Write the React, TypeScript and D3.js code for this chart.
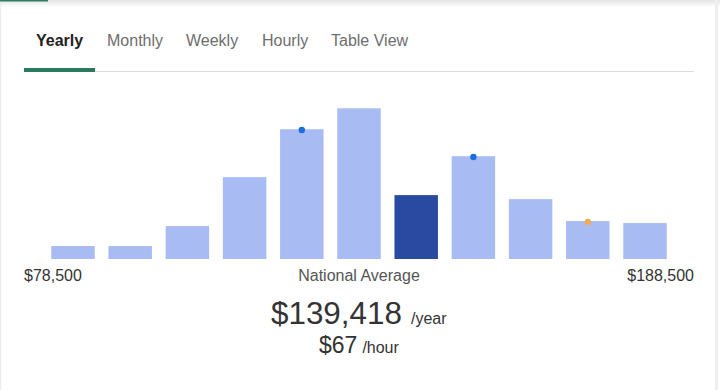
import React from "react";
import * as d3 from "d3";

const tabs = ["Yearly", "Monthly", "Weekly", "Hourly", "Table View"];
const tabX = [36, 107, 186, 262, 331];
const bins = ["b1", "b2", "b3", "b4", "b5", "b6", "b7", "b8", "b9", "b10", "b11"];
const binValues = [13, 13, 33, 82, 130, 151, 64, 103, 60, 38, 36];
const highlightIndex = 6;
const blueMarkers = [4, 7];
const orangeMarkers = [9];
const minLabel = "$78,500";
const maxLabel = "$188,500";
const centerLabel = "National Average";
const yearlyValue = "$139,418";
const hourlyValue = "$67";

const FONT = "'Liberation Sans', Arial, sans-serif";

export default function App() {
  const W = 720, H = 390;
  const x = d3.scaleBand<string>().domain(bins).range([44.4, 673.6]).paddingInner(0.24).paddingOuter(0.12);
  const y = d3.scaleLinear().domain([0, d3.max(binValues) as number]).range([259, 108.3]);
  const markers = [
    ...blueMarkers.map((i) => ({ i, c: "#1a6fe0" })),
    ...orangeMarkers.map((i) => ({ i, c: "#f5ab4f" })),
  ];
  return (
    <svg width={W} height={H} style={{ position: "absolute", left: 0, top: 0, display: "block" }} fontFamily={FONT}>
      <defs>
        <linearGradient id="topShadow" x1="0" y1="0" x2="0" y2="1">
          <stop offset="0" stopColor="#e4e4e4" />
          <stop offset="1" stopColor="#ffffff" />
        </linearGradient>
      </defs>
      <rect x={0} y={0} width={W} height={H} fill="#fff" />
      <rect x={0} y={0} width={W} height={7} fill="url(#topShadow)" />
      <rect x={0} y={0} width={1.2} height={H} fill="#ececec" />
      <rect x={715} y={0} width={3} height={H} fill="#efefef" />
      <rect x={0} y={0} width={48} height={1.5} fill="#2e7d5e" />

      {tabs.map((t, i) => (
        <text key={t} x={tabX[i]} y={46} fontSize={16} fontWeight={i === 0 ? 700 : 400} fill={i === 0 ? "#222" : "#6e6e6e"}>{t}</text>
      ))}
      <rect x={24} y={71} width={670} height={1} fill="#dcdcdc" />
      <rect x={24} y={68} width={71} height={4} fill="#2b7a5f" />

      {binValues.map((v, i) => (
        <rect key={bins[i]} x={x(bins[i])} y={y(v)} width={x.bandwidth()} height={y(0) - y(v)} fill={i === highlightIndex ? "#2a4aa2" : "#a9bbf3"} />
      ))}
      {markers.map((m) => (
        <circle key={m.i} cx={(x(bins[m.i]) as number) + x.bandwidth() / 2} cy={y(binValues[m.i]) + 0.8} r={3.2} fill={m.c} />
      ))}

      <text x={24} y={281} fontSize={16} fill="#333">{minLabel}</text>
      <text x={359} y={281} fontSize={16} fill="#555" textAnchor="middle">{centerLabel}</text>
      <text x={694} y={281} fontSize={16} fill="#333" textAnchor="end">{maxLabel}</text>

      <text x={271} y={324} fill="#333">
        <tspan fontSize={31.4}>{yearlyValue}</tspan>
        <tspan fontSize={16} dx={9}>/year</tspan>
      </text>
      <text x={319} y={352.7} fill="#333">
        <tspan fontSize={23}>{hourlyValue}</tspan>
        <tspan fontSize={16} dx={5}>/hour</tspan>
      </text>
    </svg>
  );
}
